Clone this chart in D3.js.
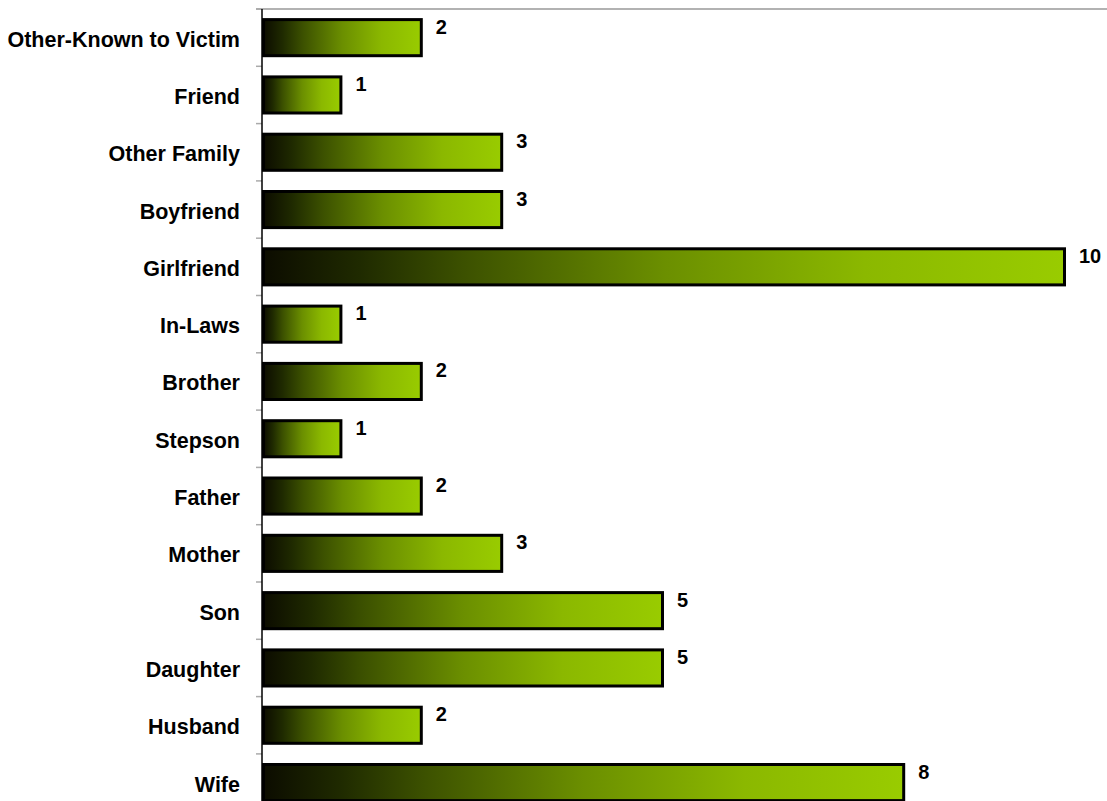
<!DOCTYPE html>
<html>
<head>
<meta charset="utf-8">
<script src="https://cdn.jsdelivr.net/npm/d3@7"></script>
<style>
  html, body { margin: 0; padding: 0; background: #fff; }
  svg { display: block; }
  text { font-family: "Liberation Sans", Arial, sans-serif; font-weight: bold; fill: #000; }
</style>
</head>
<body>
<svg id="chart" width="1107" height="801"></svg>
<script>
// Relationship of offender to victim, top row first
const categories = [
  "Other-Known to Victim", "Friend", "Other Family", "Boyfriend", "Girlfriend",
  "In-Laws", "Brother", "Stepson", "Father", "Mother", "Son", "Daughter",
  "Husband", "Wife"
];
const counts = [2, 1, 3, 3, 10, 1, 2, 1, 2, 3, 5, 5, 2, 8];

// Gradient stops for the bar fill (dark olive to lime)
const gradientOffsets = [0, 0.12, 0.25, 0.5, 0.75, 1];
const gradientColors = ["#0c0c00", "#1f2a00", "#3c5100", "#6b8f00", "#8bb800", "#99cc00"];

const svg = d3.select("#chart");
const plotLeft = 262, plotTop = 9, step = 57.3;

const x = d3.scaleLinear().domain([0, 10]).range([plotLeft, plotLeft + 804]);
const y = d3.scaleBand()
  .domain(categories)
  .range([plotTop, plotTop + step * categories.length])
  .paddingInner(0.37)
  .paddingOuter(0.185);

const defs = svg.append("defs");
const grad = defs.append("linearGradient")
  .attr("id", "barFill")
  .attr("x1", "0").attr("y1", "0").attr("x2", "1").attr("y2", "0");
grad.selectAll("stop")
  .data(gradientOffsets)
  .join("stop")
  .attr("offset", d => d)
  .attr("stop-color", (d, i) => gradientColors[i]);

// Top frame line
svg.append("line")
  .attr("x1", 256).attr("x2", 1107)
  .attr("y1", plotTop).attr("y2", plotTop)
  .attr("stroke", "#999").attr("stroke-width", 1.5);

// Category tick marks at band boundaries
const boundaries = d3.range(categories.length + 1).map(i => plotTop + i * step);
svg.append("g")
  .selectAll("line")
  .data(boundaries)
  .join("line")
  .attr("x1", 256).attr("x2", plotLeft)
  .attr("y1", d => d).attr("y2", d => d)
  .attr("stroke", "#aaa").attr("stroke-width", 1.5);

// Bars
const rows = categories.map((c, i) => ({ cat: c, val: counts[i] }));
svg.append("g")
  .selectAll("rect")
  .data(rows)
  .join("rect")
  .attr("x", x(0) + 1.5)
  .attr("y", d => y(d.cat))
  .attr("width", d => x(d.val) - x(0) - 3)
  .attr("height", y.bandwidth())
  .attr("fill", "url(#barFill)")
  .attr("stroke", "#000")
  .attr("stroke-width", 3);

// Category axis line
svg.append("line")
  .attr("x1", plotLeft).attr("x2", plotLeft)
  .attr("y1", plotTop).attr("y2", 801)
  .attr("stroke", "#000").attr("stroke-width", 1.5);

// Category labels
svg.append("g")
  .selectAll("text")
  .data(rows)
  .join("text")
  .attr("x", 240)
  .attr("y", d => y(d.cat) + y.bandwidth() / 2 + 9)
  .attr("text-anchor", "end")
  .attr("font-size", "21.5px")
  .text(d => d.cat);

// Value labels
svg.append("g")
  .selectAll("text")
  .data(rows)
  .join("text")
  .attr("x", d => x(d.val) + 13)
  .attr("y", d => y(d.cat) + y.bandwidth() / 2 - 4)
  .attr("font-size", "20px")
  .text(d => d.val);
</script>
</body>
</html>
